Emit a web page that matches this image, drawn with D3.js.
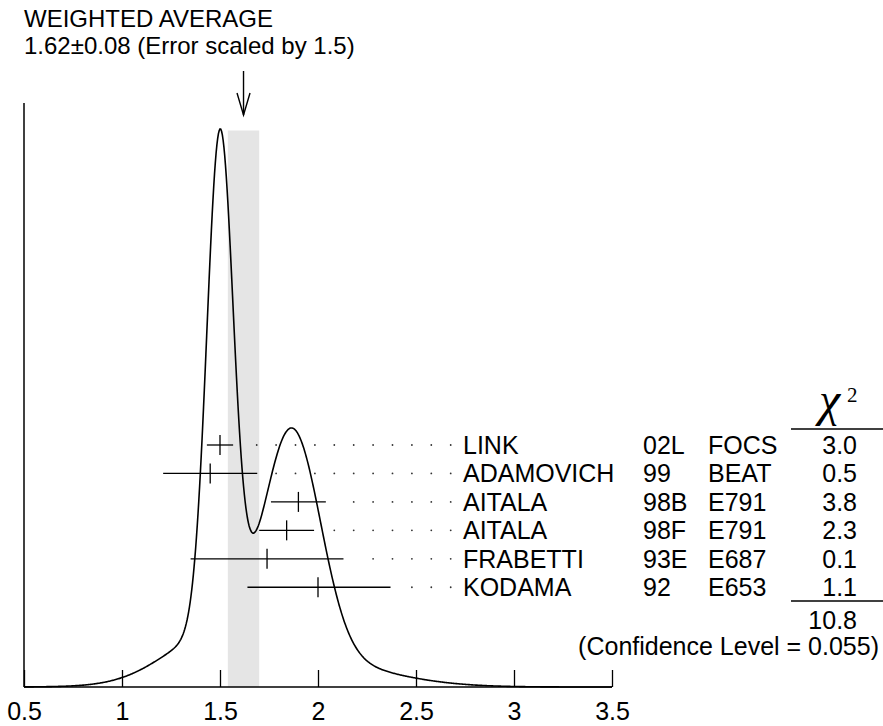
<!DOCTYPE html>
<html>
<head>
<meta charset="utf-8">
<script src="https://cdn.jsdelivr.net/npm/d3@7"></script>
<style>
  body { margin: 0; background: #fff; }
  text { font-family: "Liberation Sans", Arial, Helvetica, sans-serif; fill: #000; }
</style>
</head>
<body>
<svg id="chart" width="883" height="726"></svg>
<script>
// measurements
let authors = ["LINK", "ADAMOVICH", "AITALA", "AITALA", "FRABETTI", "KODAMA"]
let years = ["02L", "99", "98B", "98F", "93E", "92"]
let experiments = ["FOCS", "BEAT", "E791", "E791", "E687", "E653"]
let values = [1.50, 1.45, 1.90, 1.84, 1.74, 2.00]
let errLo = [0.067, 0.24, 0.14, 0.14, 0.39, 0.36]
let errHi = [0.067, 0.24, 0.14, 0.14, 0.39, 0.37]
let chi2 = ["3.0", "0.5", "3.8", "2.3", "0.1", "1.1"]
let chi2Total = "10.8"
let confLevel = "0.055"
let average = 1.62
let averageErr = 0.08
let scaleFactor = "1.5"
let xTicks = [0.5, 1, 1.5, 2, 2.5, 3, 3.5]

let svg = d3.select("#chart")
let fs = "25px"

const x = d3.scaleLinear().domain([0.5, 3.5]).range([24, 612])

// ideogram: every measurement is a gaussian with area ~ 1/error
let ideogram = function (v) {
    let s = 0
    for (let i = 0; i < values.length; i++) {
        let sig = v < values[i] ? errLo[i] : errHi[i]
        let w = 1 / Math.pow((errLo[i] + errHi[i]) / 2, 2)
        s += w * Math.exp(-Math.pow(v - values[i], 2) / (2 * sig * sig))
    }
    return s
}
let curvePts = d3.range(0.5, 3.5001, 0.004).map(v => [v, ideogram(v)])

const y = d3.scaleLinear().domain([0, d3.max(curvePts, d => d[1])]).range([687, 129])

// band of the weighted average
svg.append("rect")
    .attr("x", x(average - averageErr))
    .attr("width", x(average + averageErr) - x(average - averageErr))
    .attr("y", 130.5)
    .attr("height", 687 - 130.5)
    .attr("fill", "#e5e5e5")

// axes
let xAxis = svg.append("g")
    .attr("transform", "translate(0,687)")
    .call(d3.axisBottom(x).tickValues(xTicks).tickSize(-17).tickPadding(0).tickFormat(d3.format("")))
xAxis.select(".domain").attr("d", "M24,0H612").attr("stroke-width", 1.5)
xAxis.selectAll(".tick line").attr("stroke-width", 1.3)
xAxis.selectAll(".tick text").attr("font-size", fs).attr("y", 33).attr("dy", 0)
    .style("font-family", "Liberation Sans, Arial, sans-serif")

svg.append("line")
    .attr("x1", 24).attr("x2", 24).attr("y1", 103).attr("y2", 687)
    .attr("stroke", "#000").attr("stroke-width", 1.5)

// curve
svg.append("path")
    .datum(curvePts)
    .attr("fill", "none")
    .attr("stroke", "#000")
    .attr("stroke-width", 1.6)
    .attr("d", d3.line().x(d => x(d[0])).y(d => y(d[1])))

// arrow
let ax = x(average)
svg.append("line").attr("x1", ax).attr("x2", ax).attr("y1", 71).attr("y2", 115)
    .attr("stroke", "#000").attr("stroke-width", 1.4)
svg.append("path")
    .attr("d", d3.line()([[ax - 6.5, 93], [ax, 115], [ax + 6.5, 93]]))
    .attr("fill", "none").attr("stroke", "#000").attr("stroke-width", 1.4)

// title
svg.append("text").attr("x", 24).attr("y", 27).attr("font-size", "24px").text("WEIGHTED AVERAGE")
svg.append("text").attr("x", 24).attr("y", 54).attr("font-size", "24px")
    .text(average.toFixed(2) + "\u00b1" + averageErr.toFixed(2) + " (Error scaled by " + scaleFactor + ")")

// rows
const rowY = i => 445 + i * 28.45
let dotLast = 450.7
let dotStep = 19.4

for (let i = 0; i < values.length; i++) {
    let cy = rowY(i)
    svg.append("line")
        .attr("x1", x(values[i] - errLo[i])).attr("x2", x(values[i] + errHi[i]))
        .attr("y1", cy).attr("y2", cy)
        .attr("stroke", "#000").attr("stroke-width", 1.3)
    svg.append("line")
        .attr("x1", x(values[i])).attr("x2", x(values[i]))
        .attr("y1", cy - 10).attr("y2", cy + 10)
        .attr("stroke", "#000").attr("stroke-width", 1.3)

    let endPx = x(values[i] + errHi[i]) + 14
    let dots = d3.range(0, 30).map(k => dotLast - k * dotStep).filter(d => d > endPx)
    svg.selectAll(".dot" + i).data(dots).enter().append("circle")
        .attr("cx", d => d).attr("cy", cy).attr("r", 0.9).attr("fill", "#333")

    let ty = cy + 9
    svg.append("text").attr("x", 463).attr("y", ty).attr("font-size", fs).text(authors[i])
    svg.append("text").attr("x", 643).attr("y", ty).attr("font-size", fs).text(years[i])
    svg.append("text").attr("x", 708).attr("y", ty).attr("font-size", fs).text(experiments[i])
    svg.append("text").attr("x", 857).attr("y", ty).attr("font-size", fs)
        .style("text-anchor", "end").text(chi2[i])
}

// chi2 header and totals
svg.append("text").attr("x", 819).attr("y", 416)
    .style("font-family", "Liberation Serif, Times New Roman, serif")
    .style("font-style", "italic")
    .attr("font-size", "48px").text("\u03c7")
svg.append("text").attr("x", 847).attr("y", 402)
    .style("font-family", "Liberation Serif, Times New Roman, serif")
    .attr("font-size", "21px").text("2")
svg.append("line").attr("x1", 791).attr("x2", 883).attr("y1", 429).attr("y2", 429)
    .attr("stroke", "#000").attr("stroke-width", 1.3)
svg.append("line").attr("x1", 791).attr("x2", 883).attr("y1", 601).attr("y2", 601)
    .attr("stroke", "#000").attr("stroke-width", 1.3)
svg.append("text").attr("x", 857).attr("y", 629).attr("font-size", fs)
    .style("text-anchor", "end").text(chi2Total)
svg.append("text").attr("x", 879).attr("y", 655).attr("font-size", fs)
    .style("text-anchor", "end").text("(Confidence Level = " + confLevel + ")")
</script>
</body>
</html>
